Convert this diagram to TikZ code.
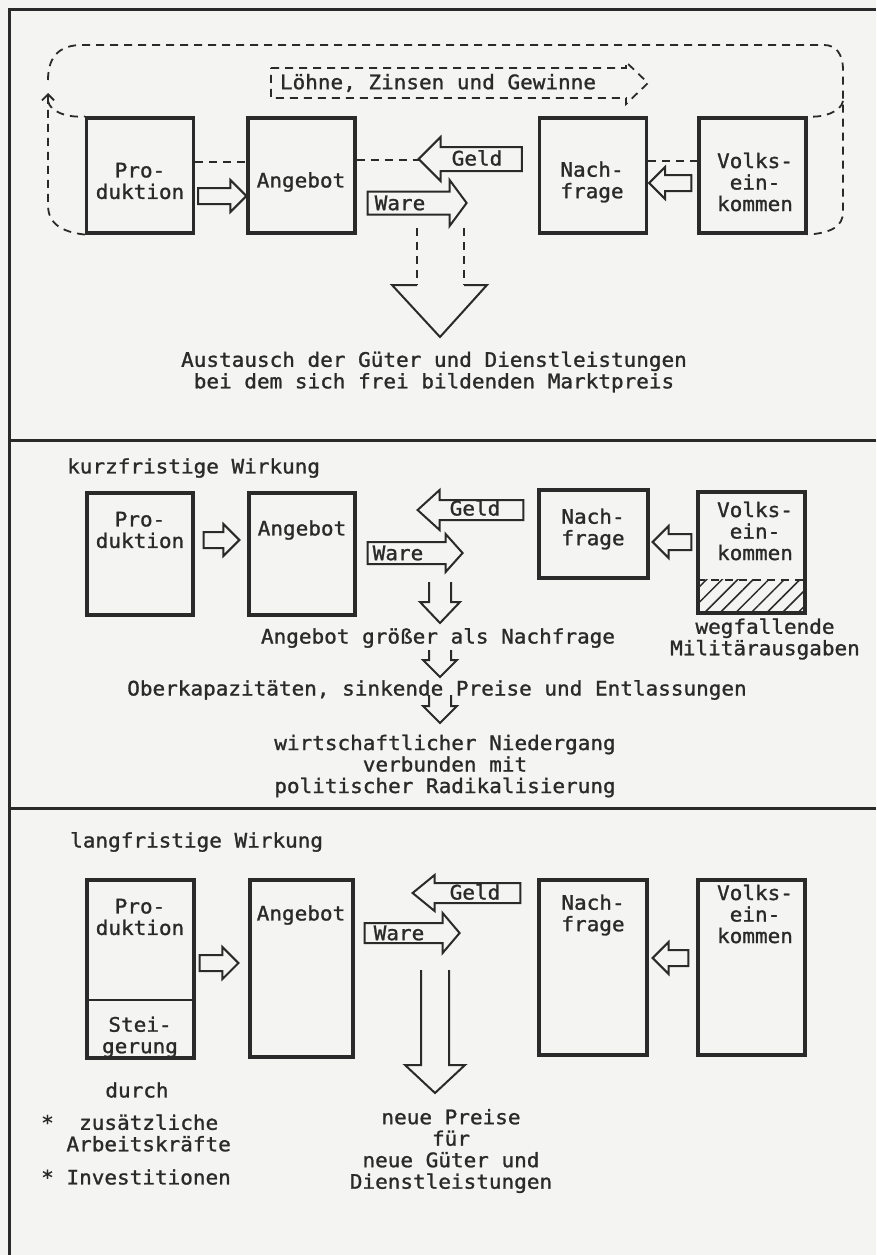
\documentclass[tikz,border=0pt]{standalone}
\usepackage{fontspec}
\setmonofont{DejaVu Sans Mono}[FakeStretch=1.05,FakeBold=1.2]
\usetikzlibrary{calc,arrows.meta,patterns.meta}
\definecolor{ink}{HTML}{2A2A2A}
\definecolor{paper}{HTML}{F4F4F2}
\tikzset{
  ba shaft/.store in=\bsh, ba head/.store in=\bhh, ba len/.store in=\bhl,
  ba shaft=8pt, ba head=16pt, ba len=16pt,
}
\begin{document}
\begin{tikzpicture}[x=1pt,y=-1pt,
  every node/.style={font=\ttfamily\fontsize{20}{21.5}\selectfont, text=ink, inner sep=0pt, align=center},
  frame/.style={draw=ink, line width=3pt},
  box/.style={draw=ink, line width=3.2pt, rectangle, minimum width=107pt},
  blk/.style={draw=ink, line width=2pt, line join=miter},
  dashline/.style={draw=ink, line width=1.8pt, dash pattern=on 8pt off 6pt},
  harrow/.style={to path={let \p1=(\tikztostart), \p2=(\tikztotarget), \n1={ifthenelse(\x2>\x1,1,-1)} in
     (\x1,{\y1+\bsh}) -- ({\x2-(\n1)*\bhl},{\y1+\bsh}) -- ({\x2-(\n1)*\bhl},{\y1+\bhh}) -- (\x2,\y1)
     -- ({\x2-(\n1)*\bhl},{\y1-\bhh}) -- ({\x2-(\n1)*\bhl},{\y1-\bsh}) -- (\x1,{\y1-\bsh}) -- cycle}},
  darrow/.style={to path={let \p1=(\tikztostart), \p2=(\tikztotarget) in
     ({\x1-\bsh},\y1) -- ({\x1-\bsh},{\y2+\bhl}) -- ({\x1-\bhh},{\y2+\bhl}) -- (\x1,\y2)
     -- ({\x1+\bhh},{\y2+\bhl}) -- ({\x1+\bsh},{\y2+\bhl}) -- ({\x1+\bsh},\y1)}},
]
\fill[paper] (0,0) rectangle (876,1255);
\useasboundingbox (0,0) rectangle (876,1255);

% outer frame and the two dividing rules
\draw[frame] (876,10) -- (9,10) -- (9,1255);
\draw[frame] (9,440) -- (876,440);
\draw[frame] (9,808) -- (876,808);

% ===== first panel: the free market cycle =====
\node[box, minimum height=115pt] (p1) at (140,175.5) {};
\node[box, minimum height=115pt] (a1) at (301.5,175.5) {};
\node[box, minimum height=115pt] (n1) at (593,175.5) {};
\node[box, minimum height=115pt] (v1) at (752.5,175.5) {};
\node (p1t) at (140,181) {Pro-\\duktion};
\node (a1t) at (301,182) {Angebot};
\node (n1t) at (592,182) {Nach-\\frage};
\node (v1t) at (755,182) {Volks-\\ein-\\kommen};

% money flow (dashed) and goods flow
\draw[dashline] (p1.east|-0,162) -- (a1.west|-0,162);
\draw[dashline] (a1.east|-0,160) -- ($(a1.east|-0,160)+(62,0)$);
\draw[dashline] (n1.east|-0,161) -- (v1.west|-0,161);
\draw[blk, harrow] ($(p1.east|-0,196)+(3,0)$) to (a1.west|-0,196);
\draw[blk, harrow] ($(v1.west|-0,183)+(-6,0)$) to ($(n1.east|-0,183)+(1,0)$);
\draw[blk, harrow, ba shaft=12pt, ba head=22pt, ba len=22pt] ($(n1.west|-0,159)+(-16,0)$) to ($(a1.east|-0,159)+(62,0)$);
\node (g1) at (477,158) {Geld};
\draw[blk, harrow, ba shaft=11.5pt, ba head=23pt, ba len=17pt] ($(a1.east|-0,203)+(11,0)$) to ($(a1.east|-0,203)+(110,0)$);
\node (w1) at (400,203) {Ware};

% wages, interest and profits
\coordinate (lz0) at (271,83);
\coordinate (lz1) at (648,83);
\draw[dashline, line join=miter, harrow, ba shaft=15pt, ba head=21pt, ba len=22pt] (lz0) to (lz1);
\node (lz) at (438,83) {Löhne, Zinsen und Gewinne};

% dashed income loop around the whole cycle
\draw[dashline, -{Straight Barb[length=6pt,width=12pt]}]
  (p1.south west) .. controls (62,232) and (48,224) .. (48,205) -- (48,93);
\draw[dashline] (48,101) .. controls (50,112) and (68,118) .. (p1.north west);
\draw[dashline] (48,80) .. controls (48,56) and (60,45) .. (82,45) -- (824,45)
  .. controls (836,45) and (843,54) .. (843,70) -- (843,212)
  .. controls (843,226) and (832,233) .. (v1.south east);
\draw[dashline] (843,101) .. controls (841,112) and (823,118) .. (v1.north east);

% exchange at the market price
\node (m1) at (434,372) {Austausch der Güter und Dienstleistungen\\bei dem sich frei bildenden Marktpreis};
\coordinate (d1a) at (440,228);
\coordinate (d1b) at (440,337);
\draw[dashline] ($(d1a)+(-23,0)$) -- ($(d1a)+(-23,57)$);
\draw[dashline] ($(d1a)+(24,0)$) -- ($(d1a)+(24,57)$);
\draw[blk] ($(d1a)+(-23,57)$) -- ($(d1a)+(-48,57)$) -- (d1b) -- ($(d1a)+(47,57)$) -- ($(d1a)+(24,57)$);

% ===== second panel: short-term effect =====
\node[anchor=west] (k) at (67,468) {kurzfristige Wirkung};
\node[box, minimum width=106pt, minimum height=122pt] (p2) at (140,554) {};
\node[box, minimum width=106pt, minimum height=122pt] (a2) at (302,554) {};
\node[box, minimum width=109pt, minimum height=88pt] (n2) at (593.5,534) {};
\node[box, minimum height=121pt] (v2) at (751.5,552.5) {};
\fill[pattern={Lines[angle=45,distance=11pt,line width=1.5pt]}, pattern color=ink]
  ($(v2.south west)+(1,-1)$) rectangle ($(v2.south east)+(-1,-35)$);
\draw[dashline] ($(v2.south west)+(1,-35)$) -- ($(v2.south east)+(-1,-35)$);
\node (p2t) at (140,530) {Pro-\\duktion};
\node (a2t) at (302,530) {Angebot};
\node (n2t) at (593,529) {Nach-\\frage};
\node (v2t) at (755,531) {Volks-\\ein-\\kommen};
\node (wm) at (765,639) {wegfallende\\Militärausgaben};

\draw[blk, harrow] ($(p2.east|-0,540)+(9,0)$) to ($(a2.west|-0,540)+(-8,0)$);
\draw[blk, harrow] ($(v2.west|-0,542)+(-5,0)$) to ($(n2.east|-0,542)+(3,0)$);
\draw[blk, harrow, ba shaft=10pt, ba head=20pt, ba len=22pt] ($(n2.west|-0,510)+(-14,0)$) to ($(a2.east|-0,510)+(61,0)$);
\node (g2) at (475,508) {Geld};
\draw[blk, harrow, ba shaft=11pt, ba head=19pt, ba len=17pt] ($(a2.east|-0,553)+(11,0)$) to ($(a2.east|-0,553)+(106,0)$);
\node (w2) at (398,553) {Ware};

\node (t21) at (438,638) {Angebot größer als Nachfrage};
\node (t22) at (437,690) {Oberkapazitäten, sinkende Preise und Entlassungen};
\node (t23) at (445,766) {wirtschaftlicher Niedergang\\verbunden mit\\politischer Radikalisierung};
\coordinate (d2a) at (440,582);
\coordinate (d2b) at (440,623);
\coordinate (d2c) at (440,650);
\coordinate (d2d) at (440,677);
\coordinate (d2e) at (440,695);
\coordinate (d2f) at (440,723);
\draw[blk, darrow, ba shaft=11pt, ba head=20pt, ba len=21pt] (d2a) to (d2b);
\draw[blk, darrow, ba shaft=11pt, ba head=17pt, ba len=17pt] (d2c) to (d2d);
\draw[blk, darrow, ba shaft=11pt, ba head=17pt, ba len=17pt] (d2e) to (d2f);

% ===== third panel: long-term effect =====
\node[anchor=west] (l) at (70,842) {langfristige Wirkung};
\node[box, minimum height=178pt] (p3) at (140.5,969) {};
\draw[blk, line width=2.4pt] (p3.west|-0,1000) -- (p3.east|-0,1000);
\node[box, minimum width=103pt, minimum height=177pt] (a3) at (301.5,968.5) {};
\node[box, minimum width=108pt, minimum height=175pt] (n3) at (593,967.5) {};
\node[box, minimum height=175pt] (v3) at (751.5,967.5) {};
\node (p3t) at (140,917) {Pro-\\duktion};
\node (s3t) at (140,1037) {Stei-\\gerung};
\node (a3t) at (301,915) {Angebot};
\node (n3t) at (593,915) {Nach-\\frage};
\node (v3t) at (755,914) {Volks-\\ein-\\kommen};

\draw[blk, harrow] ($(p3.east|-0,963)+(4,0)$) to ($(a3.west|-0,963)+(-10,0)$);
\draw[blk, harrow] ($(v3.west|-0,958)+(-8,0)$) to ($(n3.east|-0,958)+(4,0)$);
\draw[blk, harrow, ba shaft=10pt, ba head=18pt, ba len=22pt] ($(n3.west|-0,893)+(-17,0)$) to ($(a3.east|-0,893)+(58,0)$);
\node (g3) at (475,892) {Geld};
\draw[blk, harrow, ba shaft=10pt, ba head=20pt, ba len=17pt] ($(a3.east|-0,933)+(10,0)$) to ($(a3.east|-0,933)+(105,0)$);
\node (w3) at (399,933) {Ware};

\coordinate (d3a) at (435,970);
\coordinate (d3b) at (435,1093);
\draw[blk, darrow, ba shaft=14pt, ba head=30pt, ba len=28pt] (d3a) to (d3b);
\node (np) at (451,1151) {neue Preise\\für\\neue Güter und\\Dienstleistungen};

\node (du) at (137,1090) {durch};
\node[anchor=west, align=left] (z1) at (41,1133) {*~~zusätzliche\\~~Arbeitskräfte};
\node[anchor=west, align=left] (z2) at (41,1177) {*~Investitionen};
\end{tikzpicture}
\end{document}
